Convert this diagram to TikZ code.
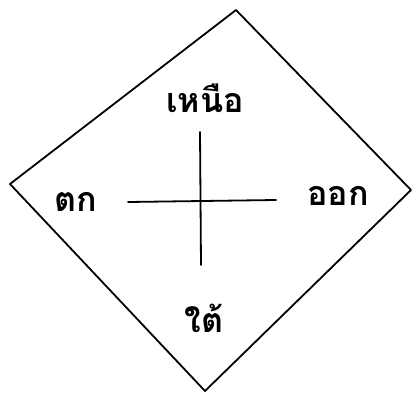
\documentclass[tikz,border=0pt]{standalone}
\usepackage{fontspec}
\newfontfamily\thaifont[Script=Thai]{Loma}
\tikzset{lbl/.style={font=\thaifont\bfseries\fontsize{34}{38}\selectfont, inner sep=0pt},
  ink/.style={line width=1.8pt, line join=round, line cap=round}}
\begin{document}
\begin{tikzpicture}[x=1pt,y=-1pt]
\useasboundingbox (0,0) rectangle (417,399);
\coordinate (T) at (236,10);
\coordinate (L) at (10,184);
\coordinate (B) at (205,391);
\coordinate (R) at (411,190);
\draw[ink] (T) -- (R) -- (B) -- (L) -- cycle;
\coordinate (vt) at (200,132);
\coordinate (vb) at (201,265);
\coordinate (hl) at (128,202);
\coordinate (hr) at (276,200);
\draw[ink] (vt) -- (vb);
\draw[ink] (hl) -- (hr);
\node[lbl] (n) at (205,98) {เหนือ};
\node[lbl] (w) at (76,202) {ตก};
\node[lbl] (e) at (338,196) {ออก};
\node[lbl] (s) at (204,318) {ใต้};
\end{tikzpicture}
\end{document}
